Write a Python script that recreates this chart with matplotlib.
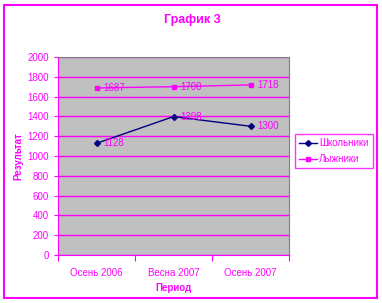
import matplotlib.pyplot as plt
from matplotlib.patches import Rectangle

plt.rcParams['font.family'] = ['Liberation Sans', 'DejaVu Sans']

periods = ["Осень 2006", "Весна 2007", "Осень 2007"]
shkolniki = [1128, 1398, 1300]
lyzhniki = [1687, 1700, 1718]

MAG = '#FF00FF'
NAVY = '#000080'

fig = plt.figure(figsize=(3.82, 3.03), dpi=100)
fig.patches.append(Rectangle((4 / 382, 1 - 298 / 303), 373 / 382, 293 / 303,
                             transform=fig.transFigure, fill=False,
                             edgecolor=MAG, linewidth=1.5))

ax = fig.add_axes([58 / 382, 1 - 255 / 303, 231 / 382, 198 / 303])
ax.set_facecolor('#C0C0C0')
x = range(len(periods))

ax.plot(x, shkolniki, color=NAVY, marker='D', markersize=3, linewidth=1, label='Школьники')
ax.plot(x, lyzhniki, color=MAG, marker='s', markersize=3.5, linewidth=1, label='Лыжники')

for series in (shkolniki, lyzhniki):
    for i, v in enumerate(series):
        ax.annotate(str(v), (i, v), xytext=(5, 0), textcoords='offset points',
                    color=MAG, fontsize=7, va='center')

ax.set_xlim(-0.5, 2.5)
ax.set_ylim(0, 2000)
ax.set_yticks(range(0, 2001, 200))
ax.set_xticks([-0.5, 0.5, 1.5, 2.5])
ax.set_xticklabels([])
ax.set_xticks(list(x), minor=True)
ax.set_xticklabels(periods, minor=True)
ax.tick_params(axis='x', which='minor', length=0, pad=9, labelsize=7, labelcolor=MAG)
ax.tick_params(axis='x', which='major', length=4, color=MAG, direction='out')
ax.tick_params(axis='y', length=3, color=MAG, labelsize=7, labelcolor=MAG)
ax.grid(axis='y', color=MAG, linewidth=1)
ax.set_axisbelow(True)

for side in ['left', 'bottom']:
    ax.spines[side].set_color(MAG)
for side in ['top', 'right']:
    ax.spines[side].set_color('#808080')

ax.set_xlabel('Период', color=MAG, fontsize=7, fontweight='bold', labelpad=4)
ax.set_ylabel('Результат', color=MAG, fontsize=7, fontweight='bold', labelpad=3)
fig.text(192 / 382, 1 - 20 / 303, 'График 3', color=MAG, fontsize=9,
         fontweight='bold', ha='center', va='center')

leg = fig.legend(loc='center left', bbox_to_anchor=(295 / 382, 1 - 151 / 303),
                 fontsize=7, frameon=True, fancybox=False, handlelength=1.9,
                 borderpad=0.4, labelspacing=0.6, handletextpad=0.2,
                 borderaxespad=0)
leg.get_frame().set_edgecolor(MAG)
leg.get_frame().set_linewidth(1)
for t in leg.get_texts():
    t.set_color(MAG)

fig.savefig('out.png', dpi=100)
